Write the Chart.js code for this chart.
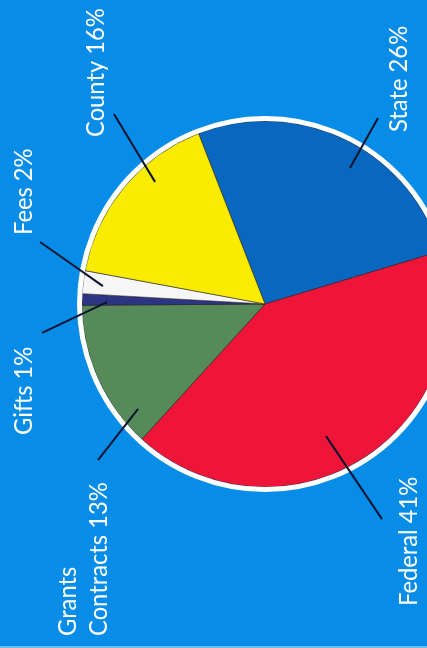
<!DOCTYPE html>
<html>
<head>
<meta charset="utf-8">
<script src="https://cdn.jsdelivr.net/npm/chart.js@4.4.0/dist/chart.umd.min.js"></script>
<style>
  html, body { margin: 0; padding: 0; width: 427px; height: 648px; overflow: hidden; background: #078ce8; }
  #wrap { position: relative; width: 470px; height: 646px; }
  #strip { position: absolute; left: 0; top: 646px; width: 427px; height: 2px; background: #6cbcf2; }
</style>
</head>
<body>
<div id="wrap"><canvas id="c" width="470" height="646"></canvas></div>
<div id="strip"></div>
<script>
// ---- data ----
const categories = ['State', 'Federal', 'Grants Contracts', 'Gifts', 'Fees', 'County'];
const labelLines = [['State'], ['Federal'], ['Grants', 'Contracts'], ['Gifts'], ['Fees'], ['County']];
const values = [26, 41, 13, 1, 2, 16];

// ---- styles ----
const colors = ['#0868bf', '#ee1538', '#568a58', '#2b3584', '#f6f6f6', '#f9ec00'];
// leader lines: [angleA, rA, angleB, rB] (deg clockwise from top, fraction of radius)
const leaders = [
  [31.3, 1.189, 32.0, 0.876],
  [155.2, 0.795, 151.45, 1.338],
  [226.95, 1.249, 230.4, 0.900],
  [262.6, 1.229, 270.7, 0.863],
  [285.4, 1.275, 276.3, 0.891],
  [321.5, 1.326, 318.0, 0.898]
];
// label anchors: offset of text baseline / start from pie centre (px)
const labelPos = [
  [142, -172],
  [152, 302],
  [-189, 332],
  [-233, 131],
  [-233, -69],
  [-161, -167]
];
const lineGap = 31;

const overlay = {
  id: 'overlay',
  afterDatasetsDraw(chart) {
    const ctx = chart.ctx;
    const arc = chart.getDatasetMeta(0).data[0];
    const cx = arc.x, cy = arc.y, R = arc.outerRadius;
    ctx.save();
    // white rim
    ctx.beginPath();
    ctx.arc(cx, cy, R + 2.5, 0, Math.PI * 2);
    ctx.strokeStyle = '#ffffff';
    ctx.lineWidth = 5;
    ctx.stroke();
    // leader lines
    ctx.strokeStyle = '#0b1530';
    ctx.lineWidth = 2;
    leaders.forEach(l => {
      const a1 = l[0] * Math.PI / 180, a2 = l[2] * Math.PI / 180;
      ctx.beginPath();
      ctx.moveTo(cx + Math.sin(a1) * l[1] * R, cy - Math.cos(a1) * l[1] * R);
      ctx.lineTo(cx + Math.sin(a2) * l[3] * R, cy - Math.cos(a2) * l[3] * R);
      ctx.stroke();
    });
    // labels (rotated)
    ctx.fillStyle = '#ffffff';
    ctx.font = '25px Lato';
    ctx.textAlign = 'left';
    ctx.textBaseline = 'alphabetic';
    labelLines.forEach((lines, i) => {
      const p = labelPos[i];
      lines.forEach((ln, j) => {
        let txt = ln;
        if (j === lines.length - 1) txt += ' ' + values[i] + '%';
        ctx.save();
        ctx.translate(cx + p[0] + j * lineGap, cy + p[1]);
        ctx.rotate(-Math.PI / 2);
        ctx.scale(0.95, 1);
        ctx.fillText(txt, 0, 0);
        ctx.restore();
      });
    });
    ctx.restore();
  }
};

new Chart(document.getElementById('c'), {
  type: 'pie',
  data: {
    labels: categories,
    datasets: [{
      data: values,
      backgroundColor: colors,
      borderColor: 'rgba(50,30,30,0.55)',
      borderWidth: 1,
      radius: 183,
      hoverOffset: 0
    }]
  },
  options: {
    responsive: false,
    animation: false,
    events: [],
    rotation: -21.3,
    layout: { padding: { left: 80, right: 20, top: 100, bottom: 138 } },
    plugins: { legend: { display: false }, tooltip: { enabled: false } }
  },
  plugins: [overlay]
});
</script>
</body>
</html>
